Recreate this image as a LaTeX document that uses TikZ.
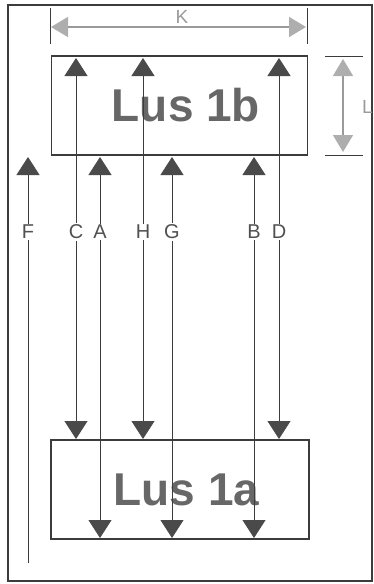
\documentclass[tikz,border=0pt]{standalone}
\usepackage{fontspec}
\setmainfont{Liberation Sans}
\usetikzlibrary{arrows.meta}
\definecolor{ink}{HTML}{3C3C3C}
\definecolor{head}{HTML}{4A4A4A}
\definecolor{dimc}{HTML}{9A9A9A}
\definecolor{titlec}{HTML}{676767}
\tikzset{
  boxst/.style={draw=ink, line width=1.2pt, inner sep=0pt, minimum width=256pt, minimum height=99pt,
    font=\fontsize{46}{46}\selectfont\bfseries, text=titlec},
  flow/.style={draw=ink, line width=0.9pt},
  lbl/.style={fill=white, inner sep=1.5pt, text=ink!90, font=\fontsize{20}{20}\selectfont},
  dimline/.style={draw=dimc, line width=1.2pt},
  tick/.style={draw=ink, line width=1pt}
}
\begin{document}
\begin{tikzpicture}[x=1pt,y=-1pt]
\useasboundingbox (0,0) rectangle (374,584);
\draw[draw=ink, line width=1.2pt] (8,5) rectangle (372,581);
\node[boxst] (top) at (179.5,105.5) {\hspace*{13pt}Lus 1b};
\node[boxst, minimum width=258pt] (bot) at (180,489.5) {\hspace*{13pt}Lus 1a};
% K dimension
\coordinate (kt1) at (50,8); \coordinate (kb1) at (50,44);
\coordinate (kt2) at (307,8); \coordinate (kb2) at (307,44);
\draw[tick] (kt1) -- (kb1);
\draw[tick] (kt2) -- (kb2);
\coordinate (kl) at (51,27); \coordinate (kr) at (306,27);
\draw[dimline, {Triangle[width=20pt,length=17pt,color=dimc!80]}-{Triangle[width=20pt,length=17pt,color=dimc!80]}] (kl) -- (kr);
\node[text=dimc, font=\fontsize{19}{19}\selectfont, inner sep=0pt] (K) at (182,17) {K};
% L dimension
\coordinate (la1) at (325,56); \coordinate (lb1) at (363,56);
\coordinate (la2) at (325,155); \coordinate (lb2) at (363,155);
\draw[tick] (la1) -- (lb1);
\draw[tick] (la2) -- (lb2);
\coordinate (lt) at (343,59); \coordinate (lb) at (343,152);
\draw[dimline, {Triangle[width=20pt,length=17pt,color=dimc!80]}-{Triangle[width=20pt,length=17pt,color=dimc!80]}] (lt) -- (lb);
\node[text=dimc, font=\fontsize{19}{19}\selectfont, inner sep=0pt, anchor=west] (L) at (362,107) {L};
% flows
\coordinate (Ft) at (28,157); \coordinate (Fb) at (28,563);
\coordinate (Ct) at (76,58); \coordinate (Cb) at (76,439);
\coordinate (At) at (100,157); \coordinate (Ab) at (100,538);
\coordinate (Ht) at (143,58); \coordinate (Hb) at (143,439);
\coordinate (Gt) at (172,157); \coordinate (Gb) at (172,538);
\coordinate (Bt) at (254,157); \coordinate (Bb) at (254,538);
\coordinate (Dt) at (279,58); \coordinate (Db) at (279,439);
\draw[flow, {Triangle[width=23pt,length=18pt,color=head]}-] (Ft) -- (Fb);
\foreach \n in {C,A,H,G,B,D}{
  \draw[flow, {Triangle[width=23pt,length=18pt,color=head]}-{Triangle[width=23pt,length=18pt,color=head]}] (\n t) -- (\n b);
}
\node[lbl] (lF) at (28,232) {F};
\node[lbl] (lC) at (76,232) {C};
\node[lbl] (lA) at (100,232) {A};
\node[lbl] (lH) at (143,232) {H};
\node[lbl] (lG) at (172,232) {G};
\node[lbl] (lB) at (254,232) {B};
\node[lbl] (lD) at (279,232) {D};
\end{tikzpicture}
\end{document}
